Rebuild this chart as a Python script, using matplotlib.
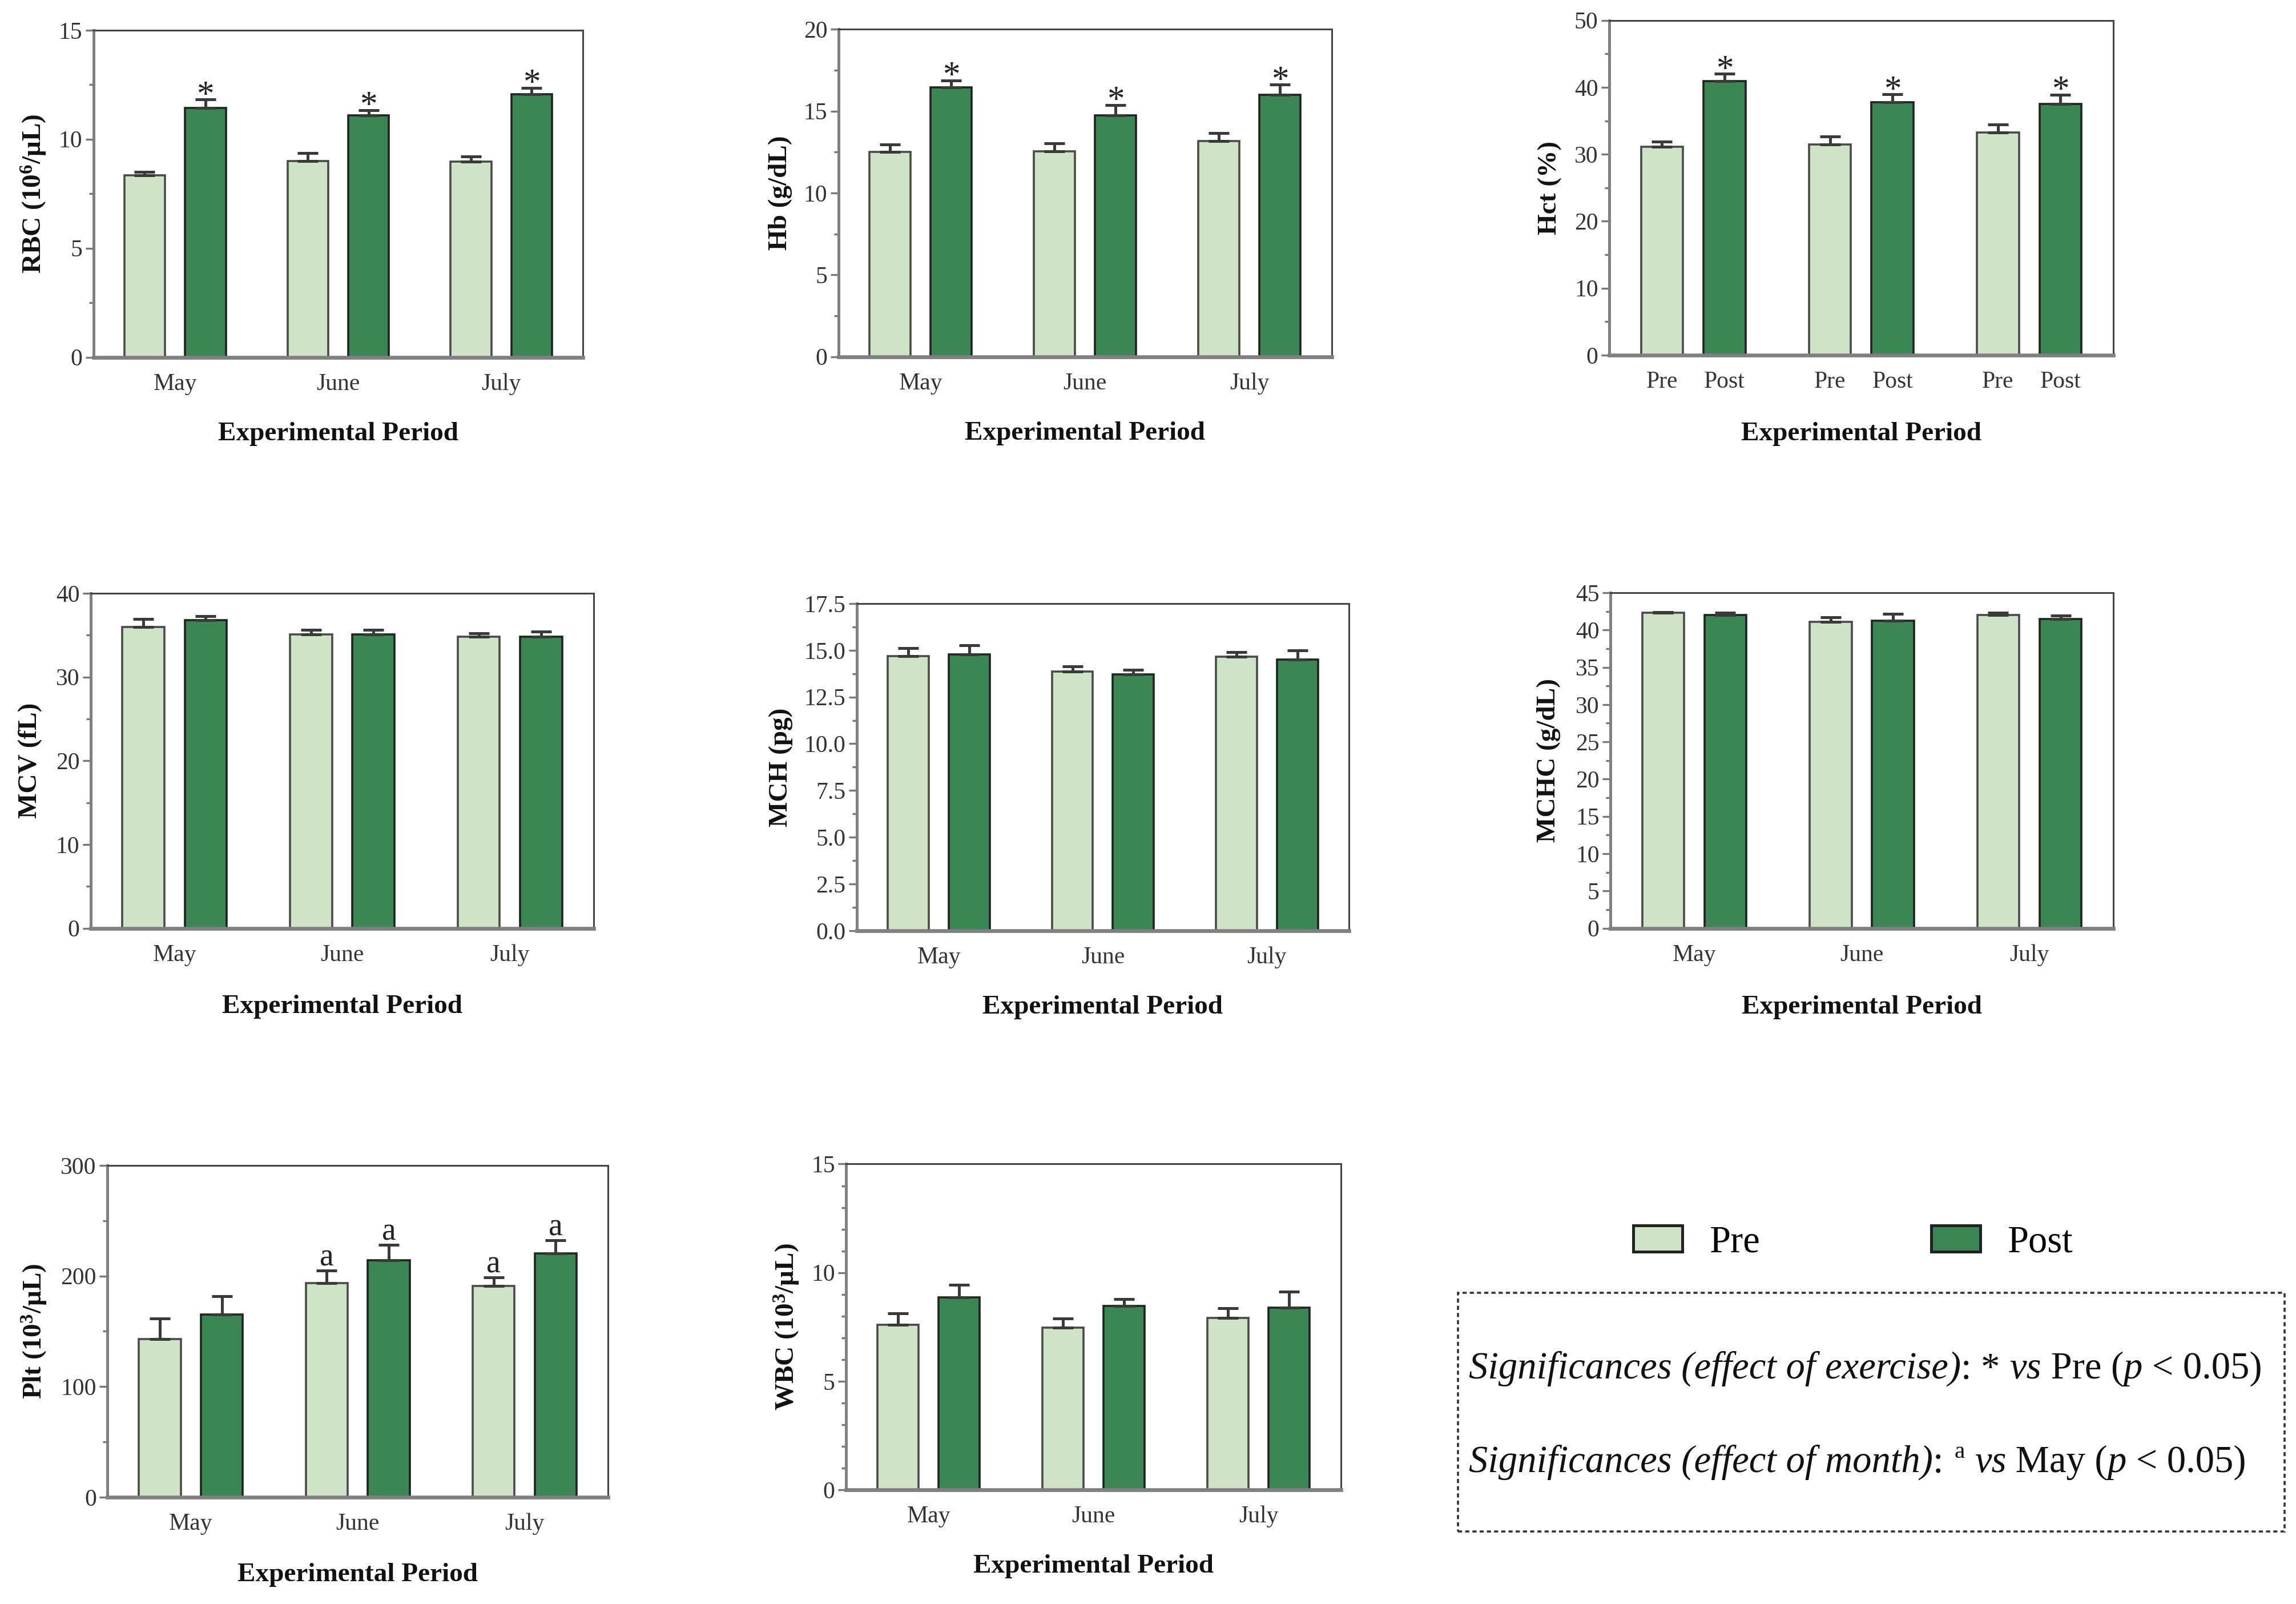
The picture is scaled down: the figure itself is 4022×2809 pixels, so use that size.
import numpy as np
import matplotlib
matplotlib.use('Agg')
import matplotlib.pyplot as plt
from matplotlib.patches import Patch, Rectangle
from matplotlib.ticker import MultipleLocator, FormatStrFormatter

plt.rcParams['font.family'] = ['Liberation Serif', 'DejaVu Serif']
plt.rcParams['mathtext.fontset'] = 'custom'
plt.rcParams['mathtext.rm'] = 'Liberation Serif'
plt.rcParams['mathtext.it'] = 'Liberation Serif:italic'
plt.rcParams['mathtext.bf'] = 'Liberation Serif:bold'

# ==========================================
# Data (mean and upper SEM)
# ==========================================
months = ['May', 'June', 'July']
phases = ['Pre', 'Post']

rbc_pre = [8.33, 9.00, 8.97]
rbc_pre_err = [0.16, 0.36, 0.23]
rbc_post = [11.43, 11.10, 12.05]
rbc_post_err = [0.39, 0.23, 0.30]

hb_pre = [12.52, 12.54, 13.17]
hb_pre_err = [0.43, 0.48, 0.50]
hb_post = [16.46, 14.76, 16.01]
hb_post_err = [0.41, 0.62, 0.61]

hct_pre = [31.1, 31.45, 33.25]
hct_pre_err = [0.83, 1.25, 1.22]
hct_post = [40.9, 37.75, 37.53]
hct_post_err = [1.10, 1.18, 1.36]

mcv_pre = [36.0, 35.1, 34.83]
mcv_pre_err = [0.96, 0.56, 0.37]
mcv_post = [36.8, 35.07, 34.83]
mcv_post_err = [0.50, 0.56, 0.57]

mch_pre = [14.68, 13.88, 14.66]
mch_pre_err = [0.44, 0.27, 0.25]
mch_post = [14.79, 13.71, 14.52]
mch_post_err = [0.47, 0.25, 0.47]

mchc_pre = [42.33, 41.08, 42.02]
mchc_pre_err = [0.08, 0.62, 0.28]
mchc_post = [41.98, 41.27, 41.47]
mchc_post_err = [0.35, 0.91, 0.47]

plt_pre = [143.2, 193.8, 191.2]
plt_pre_err = [18.6, 11.4, 7.6]
plt_post = [165.0, 214.5, 220.5]
plt_post_err = [16.6, 13.7, 11.7]

wbc_pre = [7.59, 7.48, 7.91]
wbc_pre_err = [0.54, 0.42, 0.46]
wbc_post = [8.85, 8.46, 8.40]
wbc_post_err = [0.60, 0.31, 0.72]

# significance marks above each bar
no_marks = ['', '', '']
exercise_marks = ['*', '*', '*']
month_marks = ['', 'a', 'a']

PRE_COLOR = '#cfe4c7'
POST_COLOR = '#3a8753'
OFF = 0.186
WIDTH = 0.25

fig = plt.figure(figsize=(20.11, 14.045), dpi=200)


def draw_panel(rect, pre, pre_err, post, post_err, ylabel, ymax, major, minor,
               ylab_x, fmt='%d', pre_marks=no_marks, post_marks=no_marks,
               phase_ticks=False):
    ax = fig.add_axes(rect)
    x = np.arange(len(months))
    ekw = dict(ecolor='#3a3a3a', elinewidth=1.8, capsize=6.5, capthick=1.8)
    ax.bar(x - OFF, pre, WIDTH, color=PRE_COLOR, edgecolor='#4a4a4a', linewidth=1.3,
           yerr=[np.zeros(len(pre)), pre_err], error_kw=ekw, zorder=2)
    ax.bar(x + OFF, post, WIDTH, color=POST_COLOR, edgecolor='#222', linewidth=1.3,
           yerr=[np.zeros(len(post)), post_err], error_kw=ekw, zorder=2)

    # significance symbols
    for xs, vals, errs, marks in [(x - OFF, pre, pre_err, pre_marks),
                                  (x + OFF, post, post_err, post_marks)]:
        for xi, v, e, m in zip(xs, vals, errs, marks):
            if not m:
                continue
            if m == '*':
                ax.annotate(m, (xi, v + e), xytext=(0, -3), textcoords='offset points',
                            ha='center', va='baseline', fontsize=22, color='#222')
            else:
                ax.annotate(m, (xi, v + e), xytext=(0, 3), textcoords='offset points',
                            ha='center', va='baseline', fontsize=20, color='#222')

    ax.set_xlim(-0.5, 2.5)
    ax.set_ylim(0, ymax)
    ax.yaxis.set_major_locator(MultipleLocator(major))
    ax.yaxis.set_minor_locator(MultipleLocator(minor))
    ax.yaxis.set_major_formatter(FormatStrFormatter(fmt))
    ax.tick_params(axis='y', which='major', direction='out', length=5, width=1.2,
                   color='#777', labelsize=15, labelcolor='#333', pad=2)
    ax.tick_params(axis='y', which='minor', direction='out', length=3, width=1.2,
                   color='#777')

    if phase_ticks:
        ax.set_xticks(np.concatenate([x - OFF, x + OFF]))
        ax.set_xticklabels([phases[0]] * 3 + [phases[1]] * 3)
    else:
        ax.set_xticks(x)
        ax.set_xticklabels(months)
    ax.tick_params(axis='x', length=0, labelsize=15, labelcolor='#333', pad=10)

    ax.spines['left'].set_color('#808080')
    ax.spines['left'].set_linewidth(1.8)
    ax.spines['bottom'].set_color('#808080')
    ax.spines['bottom'].set_linewidth(2.4)
    for s in ['top', 'right']:
        ax.spines[s].set_color('#444')
        ax.spines[s].set_linewidth(1.1)

    ax.set_ylabel(ylabel, fontsize=17, fontweight='bold', color='#111')
    ax.yaxis.set_label_coords(ylab_x, 0.5)
    ax.yaxis.label.set_va('center')
    ax.set_xlabel('Experimental Period', fontsize=17, fontweight='bold', color='#111')
    ax.xaxis.set_label_coords(0.5, -0.235)
    ax.xaxis.label.set_va('center')
    return ax


# ==========================================
# Panels
# ==========================================
ax_rbc = draw_panel([0.0407, 0.7773, 0.2132, 0.2039], rbc_pre, rbc_pre_err, rbc_post, rbc_post_err,
                    r'RBC (10$^{\mathbf{6}}$/μL)', 15, 5, 2.5, -0.121, post_marks=exercise_marks)
draw_panel([0.3652, 0.7776, 0.2148, 0.2041], hb_pre, hb_pre_err, hb_post, hb_post_err,
           'Hb (g/dL)', 20, 5, 2.5, -0.118, post_marks=exercise_marks)
draw_panel([0.7009, 0.7786, 0.2195, 0.2087], hct_pre, hct_pre_err, hct_post, hct_post_err,
           'Hct (%)', 50, 10, 5, -0.118, post_marks=exercise_marks, phase_ticks=True)

draw_panel([0.0395, 0.4213, 0.2191, 0.2088], mcv_pre, mcv_pre_err, mcv_post, mcv_post_err,
           'MCV (fL)', 40, 10, 5, -0.12)
draw_panel([0.3732, 0.4198, 0.2143, 0.2039], mch_pre, mch_pre_err, mch_post, mch_post_err,
           'MCH (pg)', 17.5, 2.5, 1.25, -0.155, fmt='%.1f')
draw_panel([0.7014, 0.4213, 0.2190, 0.2092], mchc_pre, mchc_pre_err, mchc_post, mchc_post_err,
           'MCHC (g/dL)', 45, 5, 2.5, -0.123)

draw_panel([0.0468, 0.0666, 0.2180, 0.2068], plt_pre, plt_pre_err, plt_post, plt_post_err,
           r'Plt (10$^{\mathbf{3}}$/μL)', 300, 100, 50, -0.146,
           pre_marks=month_marks, post_marks=month_marks)
draw_panel([0.3685, 0.0712, 0.2155, 0.2031], wbc_pre, wbc_pre_err, wbc_post, wbc_post_err,
           r'WBC (10$^{\mathbf{3}}$/μL)', 15, 5, 1, -0.12)

# ==========================================
# Legend and significance box
# ==========================================
handles = [Patch(facecolor=PRE_COLOR, edgecolor='#222', linewidth=1.8, label=phases[0]),
           Patch(facecolor=POST_COLOR, edgecolor='#222', linewidth=1.8, label=phases[1])]
fig.legend(handles=handles, loc='center', bbox_to_anchor=(0.807, 0.2253), ncol=2,
           frameon=False, fontsize=24, handlelength=1.3, handleheight=0.68,
           handletextpad=0.7, columnspacing=4.5)

fig.add_artist(Rectangle((0.635, 0.0452), 0.36, 0.1488, transform=fig.transFigure,
                         fill=False, edgecolor='#333', linewidth=1.3,
                         linestyle=(0, (2, 1.5))))


def chained_text(x, y, pieces, size=24):
    # write pieces one after the other, each starting where the previous ended
    base = fig.text(x, y, pieces[0][0], fontsize=size, style=pieces[0][1],
                    va='center', ha='left', color='#111')
    prev = base
    for txt, style in pieces[1:]:
        if style == 'sup':
            t = ax_rbc.annotate(txt, xy=(1, 0), xycoords=(prev, base),
                                xytext=(1, 11), textcoords='offset points',
                                fontsize=size * 0.62, ha='left', va='bottom',
                                color='#111', annotation_clip=False)
        else:
            t = ax_rbc.annotate(txt, xy=(1, 0), xycoords=(prev, base),
                                fontsize=size, style=style, ha='left', va='bottom',
                                color='#111', annotation_clip=False)
        prev = t


chained_text(0.6397, 0.1467,
             [('Significances (effect of exercise)', 'italic'), (': * ', 'normal'),
              ('vs', 'italic'), (' Pre (', 'normal'), ('p', 'italic'),
              (' < 0.05)', 'normal')])
chained_text(0.6397, 0.0883,
             [('Significances (effect of month)', 'italic'), (': ', 'normal'),
              ('a', 'sup'), (' ', 'normal'), ('vs', 'italic'), (' May (', 'normal'),
              ('p', 'italic'), (' < 0.05)', 'normal')])

fig.savefig('out.png', dpi=200)
